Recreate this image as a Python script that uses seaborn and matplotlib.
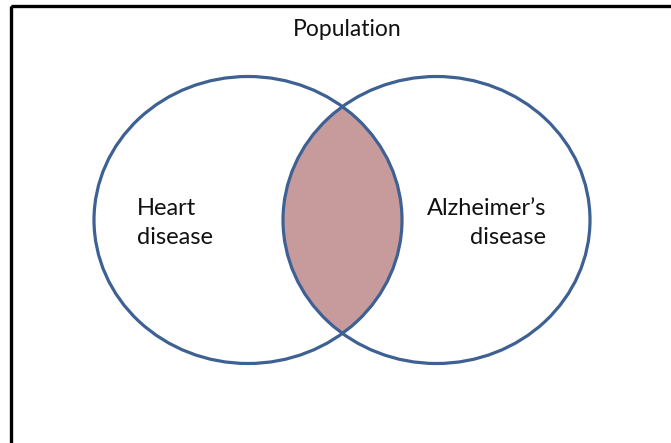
import matplotlib
matplotlib.use("Agg")
import matplotlib.pyplot as plt
from matplotlib.patches import Ellipse, Rectangle
import seaborn as sns

# === Labels ===
title_label = "Population"
set_labels = ["Heart\ndisease", "Alzheimer\u2019s\ndisease"]

# === Style ===
sns.set_theme(style="white")
plt.rcParams["font.family"] = ["Lato", "DejaVu Sans"]
edge_color = "#3E6193"
lens_color = "#C79B9B"

fig = plt.figure(figsize=(6.71, 4.43), dpi=100)
ax = fig.add_axes([0, 0, 1, 1])
ax.set_xlim(0, 671)
ax.set_ylim(443, 0)
ax.axis("off")

# outer frame (runs off the right/bottom edge)
ax.add_patch(Rectangle((11, 6), 720, 500, fill=False, ec="black", lw=2.4, zorder=1))

left = dict(xy=(248, 220), width=308, height=287)
right = dict(xy=(436.5, 220), width=307, height=287)

# shaded intersection: right ellipse clipped to the left one
clip = Ellipse(**left, transform=ax.transData)
lens = Ellipse(**right, facecolor=lens_color, edgecolor="none", zorder=2)
ax.add_patch(lens)
lens.set_clip_path(clip)

for e in (left, right):
    ax.add_patch(Ellipse(**e, fill=False, ec=edge_color, lw=2.3, zorder=3))

ax.text(347, 29, title_label, ha="center", va="center", fontsize=16.5, color="#111111")
ax.text(137, 223, set_labels[0], ha="left", va="center", fontsize=17,
        color="#111111", linespacing=1.5)
ax.text(546, 223, set_labels[1], ha="right", va="center", fontsize=17,
        color="#111111", linespacing=1.5, multialignment="right")

fig.savefig("out.png", dpi=100)
